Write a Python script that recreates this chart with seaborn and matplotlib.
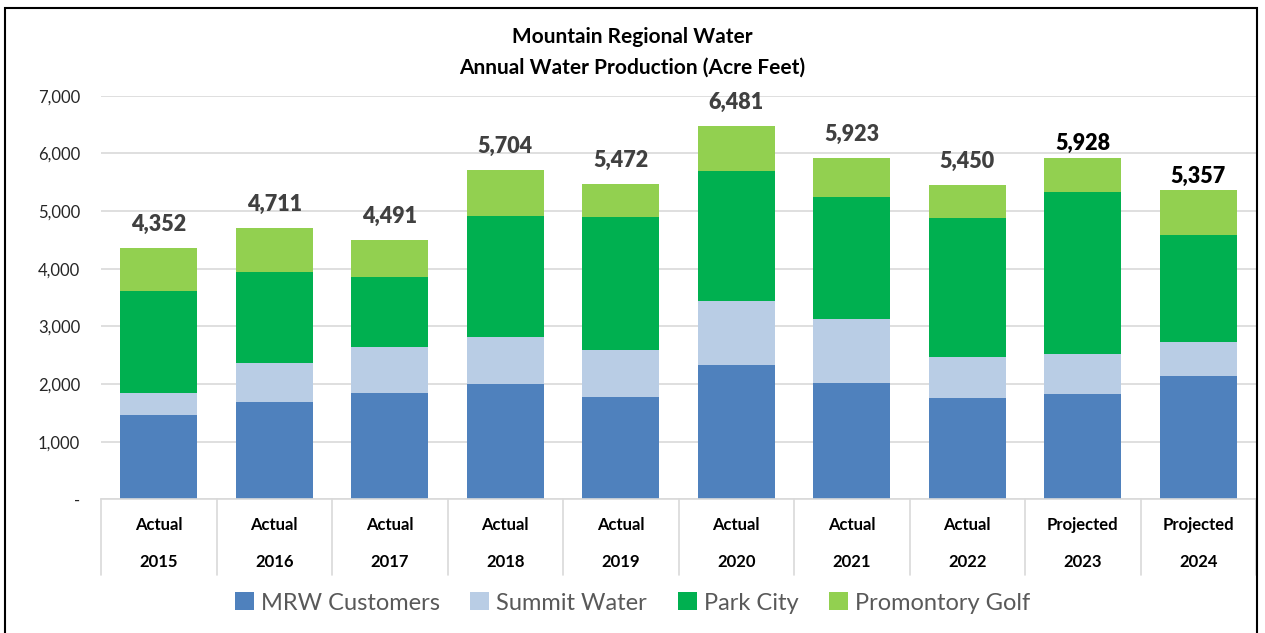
import numpy as np
import pandas as pd
import matplotlib
matplotlib.use("Agg")
import matplotlib.pyplot as plt
from matplotlib.patches import Rectangle, Patch
from matplotlib.transforms import blended_transform_factory
import seaborn as sns

# ---- data ----
years = ["2015", "2016", "2017", "2018", "2019", "2020", "2021", "2022", "2023", "2024"]
status = ["Actual"] * 8 + ["Projected"] * 2
mrw_customers = [1465, 1690, 1845, 2000, 1780, 2330, 2012, 1763, 1827, 2139]
summit_water = [375, 675, 795, 810, 810, 1115, 1110, 711, 699, 595]
park_city = [1775, 1580, 1220, 2110, 2313, 2255, 2127, 2411, 2810, 1845]
promontory_golf = [737, 766, 631, 784, 569, 781, 674, 565, 592, 778]
totals = [4352, 4711, 4491, 5704, 5472, 6481, 5923, 5450, 5928, 5357]

series_names = ["MRW Customers", "Summit Water", "Park City", "Promontory Golf"]
colors = ["#4F81BD", "#B9CDE5", "#00B050", "#92D050"]

sns.set_theme(style="white")
plt.rcParams["font.family"] = ["Lato", "DejaVu Sans"]

W, H = 1265, 633
fig = plt.figure(figsize=(W / 100, H / 100), dpi=100)
ax = fig.add_axes([101 / W, 1 - 499.3 / H, (1256 - 101) / W, (499.3 - 95.7) / H])

df = pd.DataFrame({
    "cat": [f"{s}\n{y}" for s, y in zip(status, years)],
    "MRW Customers": mrw_customers,
    "Summit Water": summit_water,
    "Park City": park_city,
    "Promontory Golf": promontory_golf,
})
cum = df[series_names].cumsum(axis=1)

# draw from top of stack downward so lower segments overlay
for name, col in reversed(list(zip(series_names, colors))):
    sns.barplot(x=df["cat"], y=cum[name], color=col, width=0.67,
                saturation=1, ax=ax, edgecolor="none", linewidth=0)

ax.set_xlim(-0.5, len(years) - 0.5)
ax.set_ylim(0, 7000)
ax.set_yticks(np.arange(0, 7001, 1000))
ax.set_yticklabels(["-" if v == 0 else f"{v:,}" for v in range(0, 7001, 1000)],
                   fontsize=12, color="#262626")
ax.tick_params(axis="y", length=0, pad=15)
ax.set_xticks([])
ax.set_xlabel("")
ax.set_ylabel("")
ax.yaxis.grid(True, color="#D9D9D9", linewidth=1.2)
ax.set_axisbelow(True)
for sp in ["top", "right", "left"]:
    ax.spines[sp].set_visible(False)
ax.spines["bottom"].set_color("#D9D9D9")
ax.spines["bottom"].set_linewidth(1.2)

# category "table" labels
tr = blended_transform_factory(ax.transData, ax.transAxes)
for i, (s, y) in enumerate(zip(status, years)):
    ax.text(i, -0.064, s, transform=tr, ha="center", va="center",
            fontsize=12, fontweight="bold", color="black")
    ax.text(i, -0.155, y, transform=tr, ha="center", va="center",
            fontsize=12, fontweight="bold", color="black")
for i in range(len(years) + 1):
    ax.plot([i - 0.5, i - 0.5], [0, -0.188], transform=tr, color="#D9D9D9",
            linewidth=1.2, clip_on=False)

# total labels
for i, (t, s) in enumerate(zip(totals, status)):
    proj = s == "Projected"
    ax.annotate(f"{t:,}", xy=(i, t), xytext=(0, 10 if proj else 17),
                textcoords="offset points", ha="center", va="center",
                fontsize=15.5, fontweight="heavy",
                color="black" if proj else "#404040")

# title
fig.text(0.5, 1 - 37 / H, "Mountain Regional Water", ha="center", va="center",
         fontsize=15, fontweight="bold", color="black")
fig.text(0.5, 1 - 68 / H, "Annual Water Production (Acre Feet)", ha="center",
         va="center", fontsize=15, fontweight="bold", color="black")

# legend
handles = [Patch(facecolor=c, edgecolor="none", label=n) for n, c in zip(series_names, colors)]
fig.legend(handles=handles, loc="center", bbox_to_anchor=(0.5, 1 - 603 / H), ncol=4,
           frameon=False, fontsize=17, labelcolor="#595959", handlelength=0.8,
           handleheight=0.8, handletextpad=0.3, columnspacing=1.3)

# outer frame
fig.patches.append(Rectangle((5 / W, -0.05), (1257 - 5) / W, 1.05 - 7.7 / H,
                             transform=fig.transFigure, fill=False,
                             edgecolor="black", linewidth=1.5))

fig.savefig("out.png", dpi=100)
